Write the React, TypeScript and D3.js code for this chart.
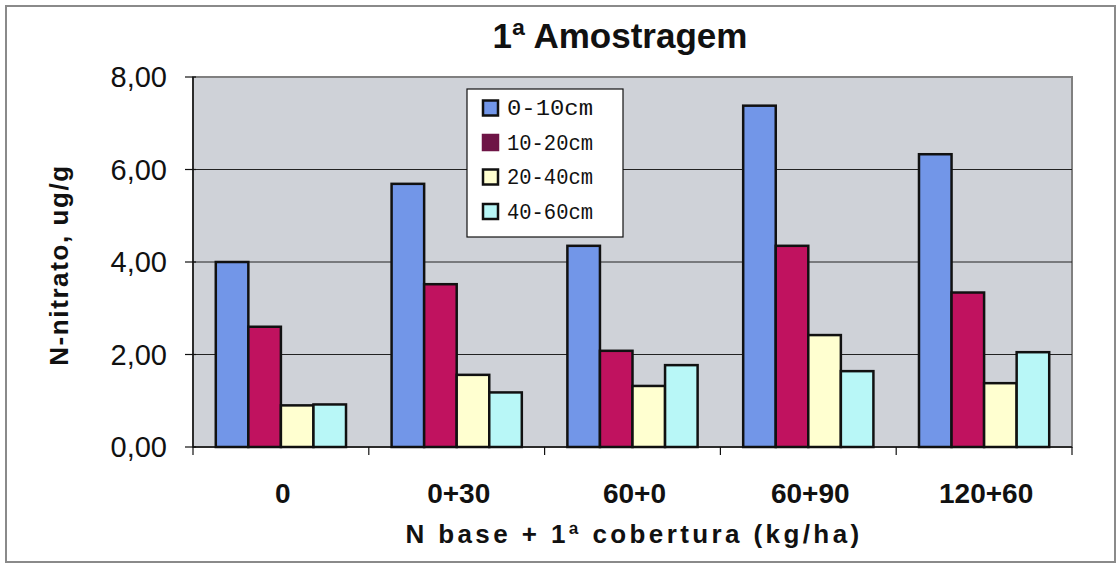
import React from "react";
import * as d3 from "d3";

const categories = ["0", "0+30", "60+0", "60+90", "120+60"];
const seriesNames = ["0-10cm", "10-20cm", "20-40cm", "40-60cm"];
const depth0to10 = [4.0, 5.69, 4.35, 7.38, 6.33];
const depth10to20 = [2.6, 3.52, 2.08, 4.35, 3.34];
const depth20to40 = [0.9, 1.56, 1.32, 2.42, 1.38];
const depth40to60 = [0.92, 1.18, 1.77, 1.64, 2.05];
const yTicks = [0, 2, 4, 6, 8];

const seriesValues = [depth0to10, depth10to20, depth20to40, depth40to60];
const barColors = ["#7296e8", "#c0125f", "#ffffd0", "#b8f7f7"];
const swatchColors = ["#7296e8", "#6e1446", "#ffffd0", "#b8f7f7"];

const W = 1119;
const H = 567;
const plot = { left: 193, right: 1072, top: 77, bottom: 447 };

const fmt = (v: number) => v.toFixed(2).replace(".", ",");

export default function App() {
  const x0 = d3
    .scaleBand<string>()
    .domain(categories)
    .range([plot.left, plot.right])
    .paddingInner(0)
    .paddingOuter(0);
  const x1 = d3
    .scaleBand<string>()
    .domain(seriesNames)
    .range([0, x0.bandwidth()])
    .paddingInner(0)
    .paddingOuter(0.7);
  const y = d3.scaleLinear().domain([0, 8]).range([plot.bottom, plot.top]);

  const boundaries = categories.map((c) => x0(c) as number).concat([plot.right]);

  return (
    <svg
      width={W}
      height={H}
      style={{ position: "absolute", left: 0, top: 0, background: "#fff" }}
      fontFamily="'Liberation Sans', Arial, sans-serif"
    >
      {/* outer chart frame */}
      <rect x={6} y={6} width={1109} height={556} fill="#fff" stroke="#8a8a8a" strokeWidth={2} />

      {/* title */}
      <text x={620} y={48} textAnchor="middle" fontSize={35} fontWeight="bold" fill="#111">
        1ª Amostragem
      </text>

      {/* plot area */}
      <rect
        x={plot.left}
        y={plot.top}
        width={plot.right - plot.left}
        height={plot.bottom - plot.top}
        fill="#cfd2d8"
        stroke="#808080"
        strokeWidth={2}
      />

      {/* gridlines */}
      {yTicks
        .filter((t) => t > 0 && t < 8)
        .map((t) => (
          <line key={"g" + t} x1={plot.left} x2={plot.right} y1={y(t)} y2={y(t)} stroke="#222" strokeWidth={1} />
        ))}

      {/* bars */}
      {categories.map((c, ci) =>
        seriesNames.map((s, si) => {
          const v = seriesValues[si][ci];
          const bx = (x0(c) as number) + (x1(s) as number);
          return (
            <rect
              key={c + s}
              x={bx}
              y={y(v)}
              width={x1.bandwidth()}
              height={y(0) - y(v)}
              fill={barColors[si]}
              stroke="#111"
              strokeWidth={2.5}
            />
          );
        })
      )}

      {/* y axis */}
      <line x1={plot.left} x2={plot.left} y1={plot.top} y2={plot.bottom} stroke="#111" strokeWidth={1.5} />
      {yTicks.map((t) => (
        <g key={"yt" + t}>
          <line x1={plot.left - 8} x2={plot.left + 3} y1={y(t)} y2={y(t)} stroke="#111" strokeWidth={1.2} />
          <text x={167} y={y(t) + 10} textAnchor="end" fontSize={29} fill="#111">
            {fmt(t)}
          </text>
        </g>
      ))}

      {/* x axis */}
      <line x1={plot.left} x2={plot.right} y1={plot.bottom} y2={plot.bottom} stroke="#111" strokeWidth={1.5} />
      {boundaries.map((bx, i) => (
        <line key={"xt" + i} x1={bx} x2={bx} y1={plot.bottom} y2={plot.bottom + 8} stroke="#111" strokeWidth={1.2} />
      ))}
      {categories.map((c) => (
        <text
          key={"xl" + c}
          x={(x0(c) as number) + x0.bandwidth() / 2 + 2}
          y={503}
          textAnchor="middle"
          fontSize={28}
          fontWeight="bold"
          fill="#111"
        >
          {c}
        </text>
      ))}

      {/* axis titles */}
      <text
        x={634}
        y={543}
        textAnchor="middle"
        fontSize={26}
        fontWeight="bold"
        letterSpacing={3.4}
        fill="#111"
      >
        N base + 1ª cobertura (kg/ha)
      </text>
      <text
        transform="translate(68,265) rotate(-90)"
        textAnchor="middle"
        fontSize={26}
        fontWeight="bold"
        letterSpacing={1.6}
        fill="#111"
      >
        N-nitrato, ug/g
      </text>

      {/* legend */}
      <rect x={467} y={89} width={156} height={148} fill="#fff" stroke="#111" strokeWidth={1.2} />
      {seriesNames.map((s, i) => {
        const cy = 108 + i * 34.5;
        return (
          <g key={"lg" + s}>
            <rect
              x={483}
              y={cy - 7.5}
              width={15}
              height={15}
              fill={swatchColors[i]}
              stroke={i === 1 ? swatchColors[i] : "#111"}
              strokeWidth={2.5}
            />
            <text
              x={507}
              y={cy + 7}
              fontSize={22}
              fontFamily="'Liberation Mono', 'Courier New', monospace"
              textLength={86}
              lengthAdjust="spacingAndGlyphs"
              fill="#111"
            >
              {s}
            </text>
          </g>
        );
      })}
    </svg>
  );
}
